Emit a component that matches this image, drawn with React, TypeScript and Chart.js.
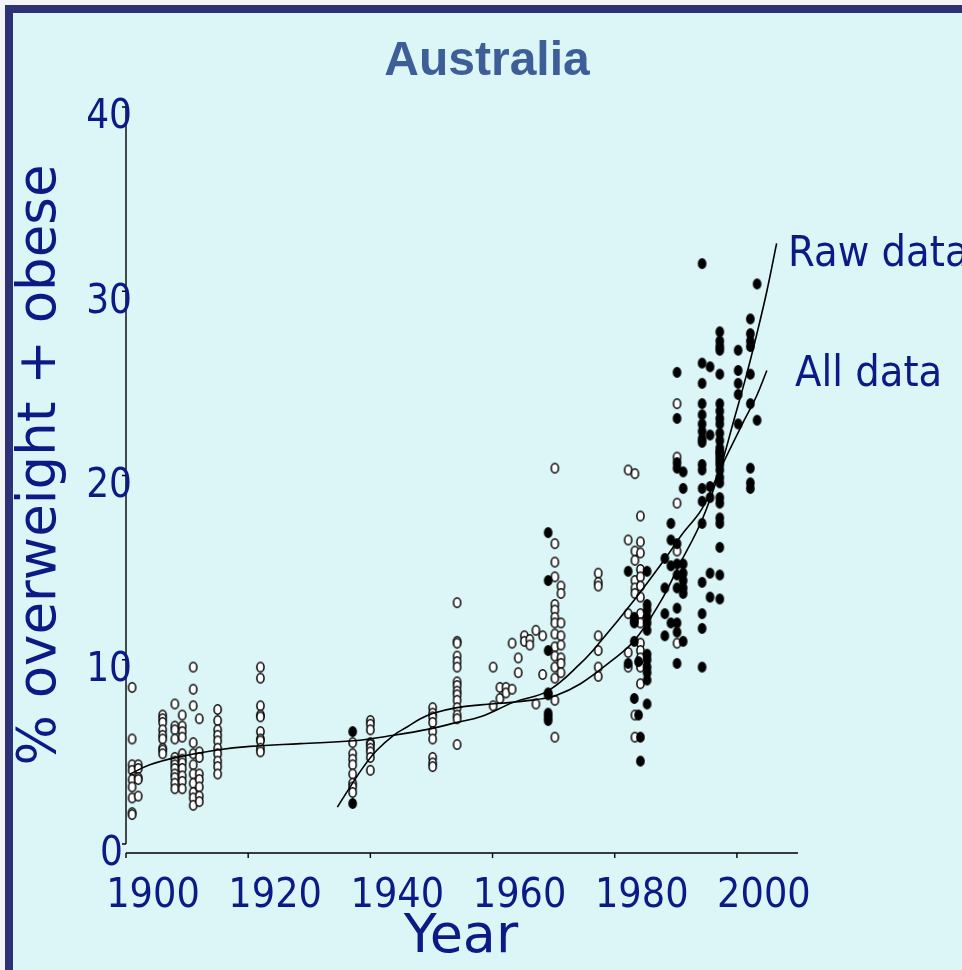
import React, { useEffect, useRef } from 'react';
import { Chart, registerables } from 'chart.js';
Chart.register(...registerables);

// ---- data ----
const openYears = [1901, 1902, 1906, 1908, 1909.2, 1911, 1912, 1915, 1922, 1937.1, 1940, 1950.2, 1954.2, 1960.1, 1961.2, 1962.2, 1963.2, 1964.2, 1965.2, 1966.1, 1967.1, 1968.2, 1970.2, 1971.2, 1977.3, 1982.2, 1983.3, 1984.2, 1990.2];
const openValues = [
  [8.5, 5.7, 4.3, 4.0, 3.5, 3.1, 2.5, 1.7, 1.6],
  [4.3, 4.1, 3.6, 3.5, 2.6],
  [7.0, 6.8, 6.6, 6.2, 5.9, 5.7, 5.2, 5.1, 4.9],
  [7.6, 6.4, 6.2, 5.7, 4.7, 4.5, 4.3, 4.1, 3.8, 3.6, 3.3, 3.0],
  [7.0, 6.4, 6.1, 5.8, 4.9, 4.6, 4.4, 4.1, 3.7, 3.4, 3.0],
  [9.6, 8.4, 7.5, 5.5, 4.9, 4.3, 3.8, 3.3, 2.8, 2.5, 2.1],
  [6.8, 5.0, 4.7, 3.8, 3.5, 3.1, 2.6, 2.3],
  [7.3, 6.7, 6.2, 5.9, 5.6, 5.2, 4.9, 4.5, 4.2, 3.8],
  [9.6, 9.0, 7.5, 7.0, 6.9, 6.1, 5.7, 5.6, 5.2, 5.0],
  [5.5, 4.9, 4.6, 4.3, 3.8, 3.3, 3.1, 2.8],
  [6.7, 6.5, 6.2, 5.5, 5.4, 5.2, 5.0, 4.7, 4.0],
  [7.4, 7.1, 6.9, 6.6, 6.1, 5.7, 4.7, 4.4, 4.2],
  [13.1, 11.0, 10.9, 10.2, 9.9, 9.6, 8.8, 8.6, 8.3, 8.1, 7.8, 7.4, 7.0, 6.8, 5.4],
  [9.6, 7.5],
  [8.5, 7.9],
  [8.5, 8.2],
  [10.9, 8.4],
  [10.1, 9.3],
  [11.3, 11.0],
  [11.1, 10.8],
  [11.6, 7.6],
  [11.3, 9.2],
  [20.4, 16.3, 15.3, 14.5, 13.0, 12.7, 12.3, 12.0, 11.4, 10.7, 10.2, 9.6, 9.0, 7.8, 5.8],
  [14.0, 13.6, 12.0, 11.3, 10.8, 10.1, 9.8, 9.3],
  [14.7, 14.2, 14.0, 11.3, 10.5, 9.6, 9.1],
  [20.3, 16.5, 12.5, 10.4, 9.6],
  [20.1, 15.9, 15.4, 14.3, 13.9, 13.6, 7.0, 5.8],
  [17.8, 16.4, 15.8, 14.9, 14.5, 14.0, 13.4, 12.5, 12.0, 10.9, 10.5, 10.1, 9.6, 8.7],
  [23.9, 21.0, 18.5, 15.9, 10.9],
];

const filledYears = [1937.1, 1969.1, 1982.2, 1983.2, 1983.9, 1984.2, 1985.3, 1988.2, 1989.2, 1990.2, 1991.2, 1994.3, 1995.6, 1997.2, 2000.2, 2002.2, 2003.3];
const filledValues = [
  [6.1, 2.2],
  [16.9, 14.3, 10.5, 8.2, 8.1, 7.1, 6.9, 6.7],
  [14.8, 9.8],
  [12.3, 12.1, 12.0, 11.0, 7.9],
  [9.9, 7.0],
  [5.8, 4.5],
  [14.8, 13.0, 12.7, 12.3, 12.0, 11.6, 10.3, 10.0, 9.6, 9.3, 8.9, 7.6],
  [15.5, 13.9, 12.5, 11.3],
  [17.4, 16.5, 15.1, 12.0],
  [25.6, 23.1, 20.7, 20.4, 16.3, 15.2, 14.6, 13.9, 12.8, 12.0, 11.5, 9.8],
  [20.2, 19.3, 15.2, 14.7, 14.3, 13.9, 13.6, 11.0],
  [31.5, 26.1, 25.0, 23.9, 23.3, 22.8, 22.4, 22.0, 21.8, 20.6, 20.3, 19.3, 18.6, 17.4, 14.2, 12.5, 11.7, 9.6],
  [25.9, 22.2, 19.4, 18.8, 14.7, 13.4],
  [27.8, 27.3, 27.0, 26.8, 25.5, 23.9, 23.5, 23.1, 22.8, 22.3, 21.9, 21.5, 21.3, 21.2, 21.0, 20.8, 20.6, 20.3, 19.9, 19.6, 18.8, 18.5, 17.7, 17.4, 16.1, 14.6, 13.3],
  [26.8, 25.7, 25.0, 24.4, 22.8],
  [28.5, 27.7, 27.3, 27.0, 25.5, 23.9, 20.4, 19.6, 19.3],
  [30.4, 23.0],
];

const allYears = [1900.7, 1903.9, 1908.3, 1914.9, 1920.3, 1928.5, 1937.2, 1943.8, 1949.8, 1954.2, 1958, 1963.5, 1969, 1974.4, 1977.7, 1983.1, 1988.5, 1991, 1994.3, 1997.2, 2001.2, 2003.2, 2004.9];
const allValues = [3.8, 4.3, 4.7, 5.1, 5.3, 5.45, 5.6, 5.9, 6.25, 6.6, 6.9, 7.7, 8.3, 9.8, 11.0, 13.2, 15.6, 16.8, 18.2, 20.3, 23.0, 24.3, 25.7];

const rawYears = [1934.6, 1936.7, 1938.9, 1941.1, 1943.8, 1946, 1948.2, 1950.3, 1954.2, 1958, 1963.5, 1967.3, 1970.3, 1974.4, 1979.3, 1983.1, 1987.4, 1990.5, 1994.3, 1997.2, 1999.5, 2001.6, 2003.2, 2004.9, 2006.5];
const rawValues = [2.0, 3.1, 4.2, 5.1, 5.9, 6.35, 6.8, 7.1, 7.4, 7.55, 7.7, 7.85, 8.05, 8.7, 9.9, 11.0, 13.1, 15.1, 17.6, 20.3, 23.0, 25.5, 27.6, 30.0, 32.6];

const yTicks = [0, 10, 20, 30, 40];
const xTicks = [1900, 1920, 1940, 1960, 1980, 2000];
const titleText = 'Australia';
const xTitle = 'Year';
const yTitle = '% overweight + obese';
const rawLabel = 'Raw data';
const allLabel = 'All data';

const NAVY = '#0c1a86';

function columns(years: number[], values: number[][]) {
  const pts: { x: number; y: number }[] = [];
  years.forEach((yr, i) => values[i].forEach((v) => pts.push({ x: yr, y: v })));
  return pts;
}

function pairs(xs: number[], ys: number[]) {
  return xs.map((x, i) => ({ x, y: ys[i] }));
}

function marker(filled: boolean) {
  const c = document.createElement('canvas');
  c.width = 11;
  c.height = 13;
  const g = c.getContext('2d')!;
  g.beginPath();
  g.ellipse(5.5, 6.5, 3.6, 4.8, 0, 0, Math.PI * 2);
  g.fillStyle = filled ? '#000000' : '#ffffff';
  g.fill();
  g.lineWidth = 1.5;
  g.strokeStyle = '#000000';
  g.stroke();
  return c;
}

function txt(ctx: CanvasRenderingContext2D, s: string, x: number, y: number, font: string, align: CanvasTextAlign, sx = 1, base: CanvasTextBaseline = 'alphabetic', color = NAVY) {
  ctx.save();
  ctx.translate(x, y);
  ctx.scale(sx, 1);
  ctx.font = font;
  ctx.textAlign = align;
  ctx.textBaseline = base;
  ctx.fillStyle = color;
  ctx.fillText(s, 0, 0);
  ctx.restore();
}

export default function App() {
  const ref = useRef<HTMLCanvasElement>(null);
  useEffect(() => {
    document.body.style.margin = '0';
    const openImg = marker(false);
    const fillImg = marker(true);

    const deco = {
      id: 'deco',
      beforeDraw(chart: any) {
        const ctx = chart.ctx as CanvasRenderingContext2D;
        ctx.save();
        ctx.fillStyle = '#f4f4f6';
        ctx.fillRect(0, 0, 962, 970);
        ctx.fillStyle = '#2d3276';
        ctx.fillRect(5, 5, 957, 965);
        ctx.fillStyle = '#dcf6f8';
        ctx.fillRect(13, 13, 949, 957);
        ctx.restore();
      },
      beforeDatasetsDraw(chart: any) {
        const ctx = chart.ctx as CanvasRenderingContext2D;
        const xs = chart.scales.x;
        const ys = chart.scales.y;
        const a = chart.chartArea;
        ctx.save();
        ctx.strokeStyle = '#000000';
        ctx.lineWidth = 1.4;
        ctx.beginPath();
        ctx.moveTo(a.left, ys.getPixelForValue(40));
        ctx.lineTo(a.left, ys.getPixelForValue(0));
        yTicks.forEach((v) => {
          const py = ys.getPixelForValue(v);
          ctx.moveTo(a.left - 4, py);
          ctx.lineTo(a.left, py);
        });
        const axY = a.bottom + 9;
        ctx.moveTo(a.left, axY);
        ctx.lineTo(a.right, axY);
        xTicks.forEach((t) => {
          const px = xs.getPixelForValue(t);
          ctx.moveTo(px, axY);
          ctx.lineTo(px, axY + 5);
        });
        ctx.stroke();
        ctx.restore();
      },
      afterDraw(chart: any) {
        const ctx = chart.ctx as CanvasRenderingContext2D;
        const xs = chart.scales.x;
        const ys = chart.scales.y;
        const a = chart.chartArea;
        txt(ctx, titleText, 487, 75, 'bold 48px "Liberation Sans", Arial, sans-serif', 'center', 1, 'alphabetic', '#3e5e98');
        yTicks.forEach((v) => {
          const py = ys.getPixelForValue(v) + 11;
          const right = v === 0 ? 123 : 132;
          txt(ctx, String(v), right, py, '40px "DejaVu Sans", sans-serif', 'right', 0.9, 'middle');
        });
        xTicks.forEach((t) => {
          const px = xs.getPixelForValue(t) + 27;
          txt(ctx, String(t), px, a.bottom + 63, '40px "DejaVu Sans", sans-serif', 'center', 0.92);
        });
        txt(ctx, xTitle, 461, 952, '54px "DejaVu Sans", sans-serif', 'center');
        ctx.save();
        ctx.translate(55, 465);
        ctx.rotate(-Math.PI / 2);
        ctx.font = '53px "DejaVu Sans", sans-serif';
        ctx.textAlign = 'center';
        ctx.textBaseline = 'alphabetic';
        ctx.fillStyle = NAVY;
        ctx.fillText(yTitle, 0, 0);
        ctx.restore();
        txt(ctx, rawLabel, 788, 266, '42px "DejaVu Sans", sans-serif', 'left', 0.92);
        txt(ctx, allLabel, 795, 386, '42px "DejaVu Sans", sans-serif', 'left', 0.92);
      },
    };

    const lineBase = {
      type: 'line',
      borderColor: '#000000',
      borderWidth: 1.6,
      pointRadius: 0,
      tension: 0.4,
      fill: false,
    };

    const chart = new Chart(ref.current!, {
      type: 'scatter',
      data: {
        datasets: [
          { ...lineBase, label: rawLabel, data: pairs(rawYears, rawValues) } as any,
          { ...lineBase, label: allLabel, data: pairs(allYears, allValues) } as any,
          { label: 'filled', data: columns(filledYears, filledValues), pointStyle: fillImg, pointRadius: 5 } as any,
          { label: 'open', data: columns(openYears, openValues), pointStyle: openImg, pointRadius: 5 } as any,
        ],
      },
      options: {
        responsive: false,
        devicePixelRatio: 1,
        animation: false,
        layout: { padding: { left: 126, right: 164, top: 107, bottom: 126 } },
        plugins: { legend: { display: false }, tooltip: { enabled: false }, title: { display: false } },
        scales: {
          x: { type: 'linear', min: 1900, max: 2010, display: false },
          y: { type: 'linear', min: 0, max: 40, display: false },
        },
      } as any,
      plugins: [deco],
    });
    return () => chart.destroy();
  }, []);

  return (
    <div style={{ position: 'absolute', left: 0, top: 0, width: 962, height: 970 }}>
      <canvas ref={ref} width={962} height={970} style={{ display: 'block', width: 962, height: 970 }} />
    </div>
  );
}
